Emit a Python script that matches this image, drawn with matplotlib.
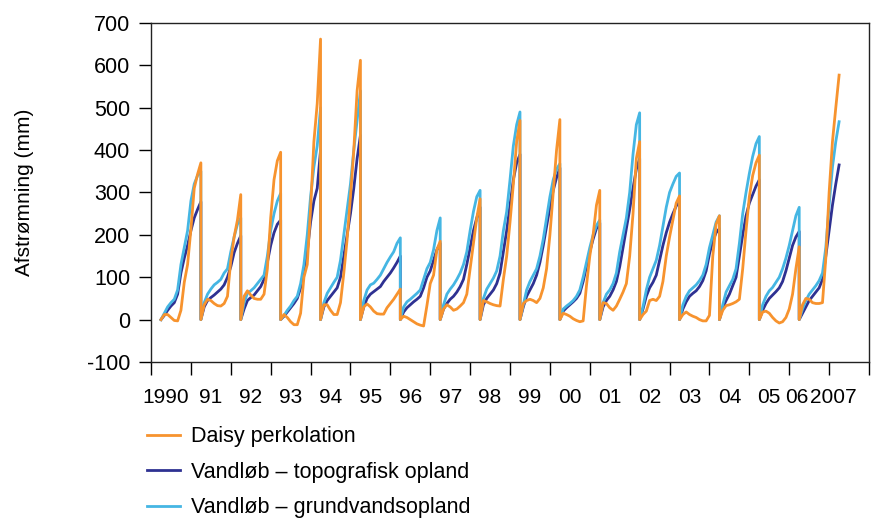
import matplotlib
matplotlib.use("Agg")
import matplotlib.pyplot as plt
import numpy as np

plt.rcParams['font.family'] = ['Liberation Sans', 'DejaVu Sans']
plt.rcParams['axes.unicode_minus'] = False

# hydrologiske aar (april-marts), akkumuleret maanedsvis, 1990/91 - 2006/07
start_aar = 1990.25
maaneder = np.arange(13) / 12.0

daisy = [
    [0, 12, 12, 5, -2, -3, 22, 88, 130, 213, 310, 343, 370],
    [0, 35, 48, 45, 38, 33, 32, 38, 55, 140, 195, 235, 295],
    [0, 55, 68, 58, 50, 48, 48, 60, 120, 240, 330, 375, 395],
    [0, 12, 5, -5, -12, -12, 15, 100, 130, 260, 420, 510, 662],
    [0, 35, 35, 22, 12, 12, 40, 110, 190, 290, 400, 540, 612],
    [0, 30, 37, 30, 20, 14, 13, 13, 28, 38, 48, 60, 72],
    [0, 8, 5, 0, -5, -10, -13, -15, 33, 85, 105, 165, 185],
    [0, 25, 35, 30, 22, 25, 32, 40, 60, 120, 180, 240, 285],
    [0, 45, 42, 38, 35, 33, 32, 95, 150, 230, 320, 420, 470],
    [0, 38, 45, 48, 45, 40, 50, 75, 120, 200, 300, 400, 472],
    [0, 15, 12, 8, 2, -2, -5, -3, 80, 150, 200, 270, 305],
    [0, 40, 38, 28, 22, 32, 48, 65, 85, 150, 250, 380, 420],
    [0, 12, 20, 45, 48, 45, 55, 90, 150, 195, 235, 275, 292],
    [0, 12, 18, 12, 8, 5, 0, -3, -3, 10, 150, 225, 245],
    [0, 22, 33, 35, 38, 42, 48, 120, 210, 290, 340, 370, 388],
    [0, 18, 20, 15, 5, -3, -8, -5, 5, 25, 60, 120, 172],
    [0, 35, 50, 48, 40, 38, 38, 40, 145, 300, 420, 500, 577],
]

topografisk = [
    [0, 10, 22, 32, 40, 60, 110, 145, 175, 210, 240, 260, 278],
    [0, 30, 45, 52, 58, 65, 72, 82, 100, 125, 158, 180, 198],
    [0, 25, 45, 52, 58, 68, 78, 95, 135, 175, 205, 225, 235],
    [0, 8, 18, 28, 38, 50, 75, 110, 160, 230, 280, 310, 400],
    [0, 30, 45, 55, 65, 75, 100, 150, 200, 250, 310, 380, 435],
    [0, 30, 50, 60, 66, 72, 78, 90, 100, 110, 122, 135, 150],
    [0, 18, 28, 35, 42, 48, 55, 75, 100, 115, 140, 165, 180],
    [0, 25, 38, 48, 55, 65, 78, 95, 130, 170, 210, 240, 265],
    [0, 35, 50, 60, 70, 85, 110, 160, 210, 270, 330, 370, 390],
    [0, 30, 55, 70, 85, 105, 135, 175, 220, 265, 305, 335, 358],
    [0, 20, 28, 35, 42, 50, 62, 90, 125, 160, 190, 215, 228],
    [0, 30, 45, 55, 70, 90, 125, 170, 215, 260, 310, 355, 380],
    [0, 25, 55, 75, 88, 105, 140, 175, 205, 230, 250, 268, 280],
    [0, 25, 42, 55, 62, 68, 78, 92, 115, 155, 185, 205, 215],
    [0, 28, 45, 60, 80, 100, 150, 200, 245, 275, 295, 315, 330],
    [0, 22, 38, 50, 58, 66, 75, 90, 115, 145, 175, 195, 208],
    [0, 15, 30, 45, 55, 65, 75, 95, 150, 210, 270, 320, 365],
]

grundvand = [
    [0, 15, 30, 40, 48, 70, 130, 170, 210, 280, 320, 340, 350],
    [0, 40, 60, 72, 82, 88, 95, 110, 120, 160, 195, 225, 240],
    [0, 40, 62, 68, 75, 85, 95, 105, 150, 210, 250, 280, 298],
    [0, 10, 22, 32, 45, 55, 85, 130, 200, 290, 360, 410, 500],
    [0, 40, 62, 75, 88, 100, 140, 200, 260, 320, 400, 470, 540],
    [0, 45, 70, 82, 86, 95, 105, 120, 135, 148, 160, 180, 193],
    [0, 30, 42, 48, 55, 62, 70, 95, 120, 135, 165, 210, 240],
    [0, 35, 60, 72, 82, 95, 110, 130, 160, 210, 255, 290, 305],
    [0, 50, 72, 85, 98, 115, 150, 210, 255, 330, 410, 460, 490],
    [0, 35, 70, 90, 105, 120, 150, 190, 240, 290, 330, 355, 368],
    [0, 25, 32, 38, 45, 55, 70, 100, 135, 170, 200, 222, 235],
    [0, 40, 60, 70, 85, 110, 160, 200, 240, 300, 390, 460, 488],
    [0, 30, 70, 100, 120, 140, 175, 220, 265, 300, 320, 338, 346],
    [0, 35, 55, 68, 75, 82, 92, 105, 130, 170, 200, 230, 245],
    [0, 35, 65, 80, 95, 120, 180, 250, 300, 345, 385, 415, 432],
    [0, 35, 55, 68, 76, 88, 100, 120, 145, 175, 210, 245, 265],
    [0, 25, 45, 60, 70, 80, 92, 110, 170, 270, 360, 420, 467],
]

aar_labels = ['1990', '91', '92', '93', '94', '95', '96', '97', '98', '99',
              '00', '01', '02', '03', '04', '05', '06', '2007']


def tidsserie(aarsdata):
    x = np.concatenate([start_aar + i + maaneder for i in range(len(aarsdata))])
    y = np.concatenate([np.array(a, dtype=float) for a in aarsdata])
    return x, y


fig = plt.figure(figsize=(8.77, 5.21), dpi=100)
ax = fig.add_axes([0.1722, 0.3052, 0.8187, 0.6507])

orange = '#f7932e'
moerkeblaa = '#2e3192'
lyseblaa = '#45b6e3'

x, y = tidsserie(topografisk)
l2, = ax.plot(x, y, color=moerkeblaa, lw=2.0, label='Vandløb – topografisk opland')
x, y = tidsserie(grundvand)
l3, = ax.plot(x, y, color=lyseblaa, lw=2.0, label='Vandløb – grundvandsopland')
x, y = tidsserie(daisy)
l1, = ax.plot(x, y, color=orange, lw=2.0, label='Daisy perkolation')

ax.set_xlim(1990, 2008)
ax.set_ylim(-100, 700)
ax.set_yticks(np.arange(-100, 701, 100))
ax.set_xticks(np.arange(1990, 2009))
ax.set_xticklabels([])

# aarstal midt i hvert aar, de sidste to skubbet sammen
label_pos = np.arange(1990, 2008) + 0.5
label_pos[0] -= 0.13
label_pos[-2] -= 0.3
label_pos[-1] -= 0.4
ax.set_xticks(label_pos, minor=True)
ax.set_xticklabels(aar_labels, minor=True)
ax.tick_params(axis='x', which='minor', length=0, pad=19, labelsize=15)
ax.tick_params(axis='x', which='major', length=9, width=1, direction='out')
ax.tick_params(axis='y', length=9, width=1, direction='out', pad=6, labelsize=15.5)

for s in ax.spines.values():
    s.set_linewidth(1.0)
    s.set_color('#222222')

ax.set_ylabel('Afstrømning (mm)', fontsize=15, labelpad=38)

fig.legend(handles=[l1, l2, l3], loc='upper left', bbox_to_anchor=(0.168, 0.182),
           frameon=False, fontsize=15.5, handlelength=1.5, handletextpad=0.55,
           labelspacing=0.68, borderpad=0, borderaxespad=0)

fig.savefig('out.png', dpi=100)
